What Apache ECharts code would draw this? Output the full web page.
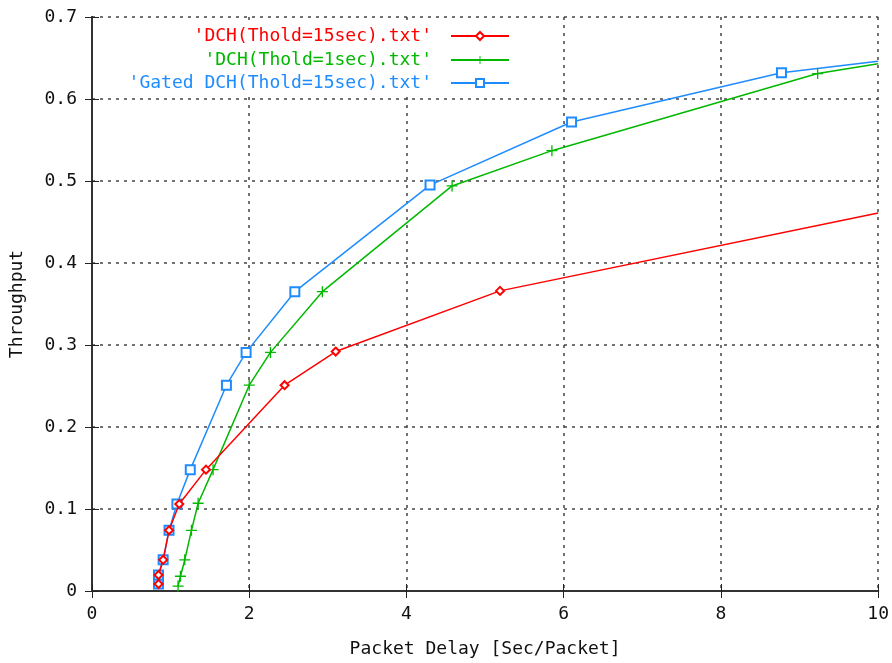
<!DOCTYPE html>
<html lang="en">
  <head>
    <meta charset="UTF-8" />
    <script src="https://cdn.jsdelivr.net/npm/echarts@6/dist/echarts.min.js"></script>
    <title>Throughput vs Packet Delay</title>
    <style>
      html, body { margin: 0; padding: 0; background: #fff; }
      #chart { width: 892px; height: 663px; }
    </style>
  </head>
  <body>
    <div id="chart"></div>
  </body>
  <script>
    // series names (as in the legend)
    const redName = "'DCH(Thold=15sec).txt'";
    const greenName = "'DCH(Thold=1sec).txt'";
    const blueName = "'Gated DCH(Thold=15sec).txt'";

    // packet delay (x) and throughput (y)
    const redDelay = [0.846, 0.846, 0.905, 0.98, 1.11, 1.45, 2.45, 3.10, 5.19, 10];
    const redThroughput = [0.0085, 0.0195, 0.038, 0.074, 0.106, 0.148, 0.251, 0.292, 0.366, 0.461];

    const greenDelay = [1.095, 1.125, 1.18, 1.265, 1.35, 1.54, 2.0, 2.27, 2.93, 4.58, 5.85, 9.23, 10];
    const greenThroughput = [0.006, 0.018, 0.038, 0.074, 0.107, 0.148, 0.251, 0.291, 0.365, 0.494, 0.537, 0.631, 0.643];

    const blueDelay = [0.846, 0.846, 0.905, 0.98, 1.08, 1.25, 1.71, 1.96, 2.58, 4.30, 6.10, 8.77, 10];
    const blueThroughput = [0.0085, 0.0195, 0.038, 0.074, 0.106, 0.148, 0.251, 0.291, 0.365, 0.495, 0.572, 0.632, 0.646];

    const font = "DejaVu Sans Mono";
    const fontSize = 18;
    const gridColor = "#444";

    // last point sits on the plot edge: line only, no marker
    function toPoints(xs, ys) {
      return xs.map((x, i) => {
        if (i === xs.length - 1) return { value: [x, ys[i]], symbol: "none" };
        return [x, ys[i]];
      });
    }

    const plusPath = "path://M4.4,0h1.2v4.4h4.4v1.2h-4.4v4.4h-1.2v-4.4h-4.4v-1.2h4.4z";

    // one legend per row so every label ends at the same right edge;
    // the white box hides the grid behind the key, as gnuplot does
    function legendFor(name, color, top) {
      return {
        data: [name],
        right: 376,
        top: top,
        align: "right",
        itemWidth: 58,
        itemHeight: 10,
        padding: [3, 6, 3, 6],
        backgroundColor: "#fff",
        selectedMode: false,
        textStyle: {
          color: color,
          fontFamily: font,
          fontSize: fontSize,
          padding: [0, 14, 0, 0]
        }
      };
    }

    const myChart = echarts.init(document.getElementById("chart"));

    const option = {
      animation: false,
      backgroundColor: "#fff",
      grid: { left: 92, right: 12, top: 17, bottom: 72 },
      legend: [
        legendFor(redName, "#ff0000", 24),
        legendFor(greenName, "#00b800", 48),
        legendFor(blueName, "#1e8cff", 71)
      ],
      xAxis: [
        {
          type: "value",
          min: 0,
          max: 10,
          interval: 2,
          name: "Packet Delay [Sec/Packet]",
          nameLocation: "middle",
          nameGap: 49,
          nameTextStyle: { color: "#111", fontFamily: font, fontSize: fontSize },
          axisLine: { show: true, onZero: false, lineStyle: { color: "#333", width: 2 } },
          axisTick: { show: true, inside: true, length: 7, lineStyle: { color: "#222" } },
          axisLabel: { color: "#111", fontFamily: font, fontSize: fontSize, margin: 14 },
          splitLine: { show: true, lineStyle: { color: gridColor, type: [3, 5], width: 1.5 } }
        },
        {
          type: "value",
          position: "top",
          min: 0,
          max: 10,
          interval: 2,
          axisLine: { show: true, lineStyle: { color: "#333", width: 2 } },
          axisTick: { show: true, inside: true, length: 7, lineStyle: { color: "#222" } },
          axisLabel: { show: false },
          splitLine: { show: false }
        }
      ],
      yAxis: [
        {
          type: "value",
          min: 0,
          max: 0.7,
          interval: 0.1,
          name: "Throughput",
          nameLocation: "middle",
          nameGap: 66,
          nameTextStyle: { color: "#111", fontFamily: font, fontSize: fontSize },
          axisLine: { show: true, onZero: false, lineStyle: { color: "#333", width: 2 } },
          axisTick: { show: true, inside: true, length: 7, lineStyle: { color: "#222" } },
          axisLabel: {
            color: "#111",
            fontFamily: font,
            fontSize: fontSize,
            margin: 15,
            formatter: (v) => (v === 0 ? "0" : v.toFixed(1))
          },
          splitLine: { show: true, lineStyle: { color: gridColor, type: [3, 5], width: 1.5 } }
        },
        {
          type: "value",
          position: "right",
          min: 0,
          max: 0.7,
          interval: 0.1,
          axisLine: { show: true, lineStyle: { color: "#333", width: 2 } },
          axisTick: { show: true, inside: true, length: 7, lineStyle: { color: "#222" } },
          axisLabel: { show: false },
          splitLine: { show: false }
        }
      ],
      series: [
        {
          name: redName,
          type: "line",
          data: toPoints(redDelay, redThroughput),
          symbol: "emptyDiamond",
          symbolSize: 8,
          color: "#ff0000",
          lineStyle: { width: 1.5 },
          z: 3
        },
        {
          name: greenName,
          type: "line",
          data: toPoints(greenDelay, greenThroughput),
          symbol: plusPath,
          symbolSize: 11,
          color: "#00b800",
          lineStyle: { width: 1.5 },
          z: 2
        },
        {
          name: blueName,
          type: "line",
          data: toPoints(blueDelay, blueThroughput),
          symbol: "emptyRect",
          symbolSize: 9,
          color: "#1e8cff",
          lineStyle: { width: 1.5 },
          itemStyle: { borderWidth: 1.5 },
          z: 2
        }
      ]
    };
    myChart.setOption(option);
  </script>
</html>
